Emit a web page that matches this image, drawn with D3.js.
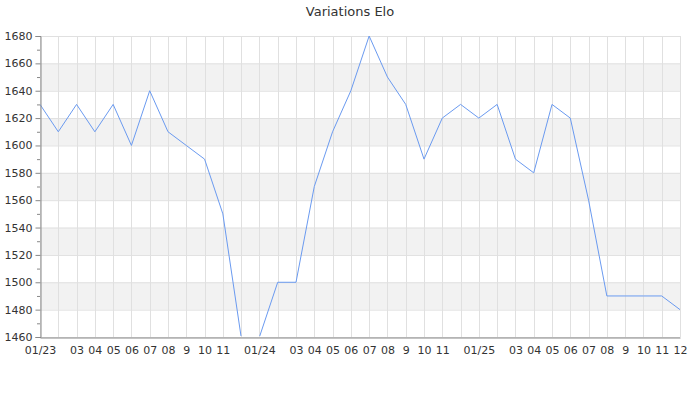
<!DOCTYPE html>
<html><head><meta charset="utf-8">
<script src="https://cdn.jsdelivr.net/npm/d3@7"></script>
<style>
body{margin:0;background:#fff;}
text{font-family:"DejaVu Sans",sans-serif;}
</style></head>
<body><svg id="c" width="700" height="400"></svg>
<script>
const months = ["2023-01","2023-02","2023-03","2023-04","2023-05","2023-06","2023-07","2023-08","2023-09","2023-10","2023-11","2023-12",
"2024-01","2024-02","2024-03","2024-04","2024-05","2024-06","2024-07","2024-08","2024-09","2024-10","2024-11","2024-12",
"2025-01","2025-02","2025-03","2025-04","2025-05","2025-06","2025-07","2025-08","2025-09","2025-10","2025-11","2025-12"];
const elo = [1630,1610,1630,1610,1630,1600,1640,1610,1600,1590,1550,1460,
1460,1500,1500,1570,1610,1640,1680,1650,1630,1590,1620,1630,
1620,1630,1590,1580,1630,1620,1560,1490,1490,1490,1490,1480];
const xLabels = ["01/23","","03","04","05","06","07","08","9","10","11","",
"01/24","","03","04","05","06","07","08","9","10","11","",
"01/25","","03","04","05","06","07","08","9","10","11","12"];
const yTicks = [1460,1480,1500,1520,1540,1560,1580,1600,1620,1640,1660,1680];
const yMinor = [1470,1490,1510,1530,1550,1570,1590,1610,1630,1650,1670];
const bands = [[1640,1660],[1600,1620],[1560,1580],[1520,1540],[1480,1500]];
const title = "Variations Elo";

const svg = d3.select("#c");
const L=40,R=680,T=36,B=337;
const x = d3.scalePoint().domain(months).range([L,R]);
const y = d3.scaleLinear().domain([1460,1680]).range([B,T]);

svg.append("text").attr("x",350).attr("y",16).attr("text-anchor","middle")
  .attr("font-size",13).attr("fill","#333").text(title);

svg.append("g").selectAll("rect").data(bands).join("rect")
  .attr("x",L).attr("width",R-L).attr("y",d=>y(d[1])).attr("height",d=>y(d[0])-y(d[1]))
  .attr("fill","#f2f2f2");

svg.append("g").selectAll("line").data(yTicks).join("line")
  .attr("x1",L).attr("x2",R).attr("y1",d=>y(d)+0.5).attr("y2",d=>y(d)+0.5)
  .attr("stroke","#e0e0e0");
svg.append("g").selectAll("line").data(months).join("line")
  .attr("x1",d=>Math.round(x(d))+0.5).attr("x2",d=>Math.round(x(d))+0.5).attr("y1",T).attr("y2",B)
  .attr("stroke","#e0e0e0");

svg.append("clipPath").attr("id","cp").append("rect")
  .attr("x",L).attr("y",T-1).attr("width",R-L).attr("height",B-T);

svg.append("path").datum(elo.map((v,i)=>[months[i],v]))
  .attr("clip-path","url(#cp)")
  .attr("fill","none").attr("stroke","#6a9af0").attr("stroke-width",1)
  .attr("d",d3.line().x(d=>x(d[0])).y(d=>y(d[1])));

// Y axis
const ya = svg.append("g").attr("transform",`translate(${L+0.5},0)`)
  .call(d3.axisLeft(y).tickValues(yTicks).tickSize(5).tickPadding(3).tickFormat(d3.format("d")));
ya.select(".domain").attr("stroke","#888");
ya.selectAll(".tick line").attr("stroke","#888");
ya.selectAll("text").attr("font-size",11).attr("fill","#333").attr("font-family","DejaVu Sans");
svg.append("g").selectAll("line").data(yMinor).join("line")
  .attr("x1",L-3).attr("x2",L).attr("y1",d=>y(d)+0.5).attr("y2",d=>y(d)+0.5).attr("stroke","#888");

// X axis
const xa = svg.append("g").attr("transform",`translate(0,${B+0.5})`)
  .call(d3.axisBottom(x).tickSize(0).tickPadding(9).tickFormat((d,i)=>xLabels[i]));
xa.select(".domain").attr("stroke","#888");
xa.selectAll("text").attr("font-size",11).attr("fill","#333").attr("font-family","DejaVu Sans");
</script></body></html>
